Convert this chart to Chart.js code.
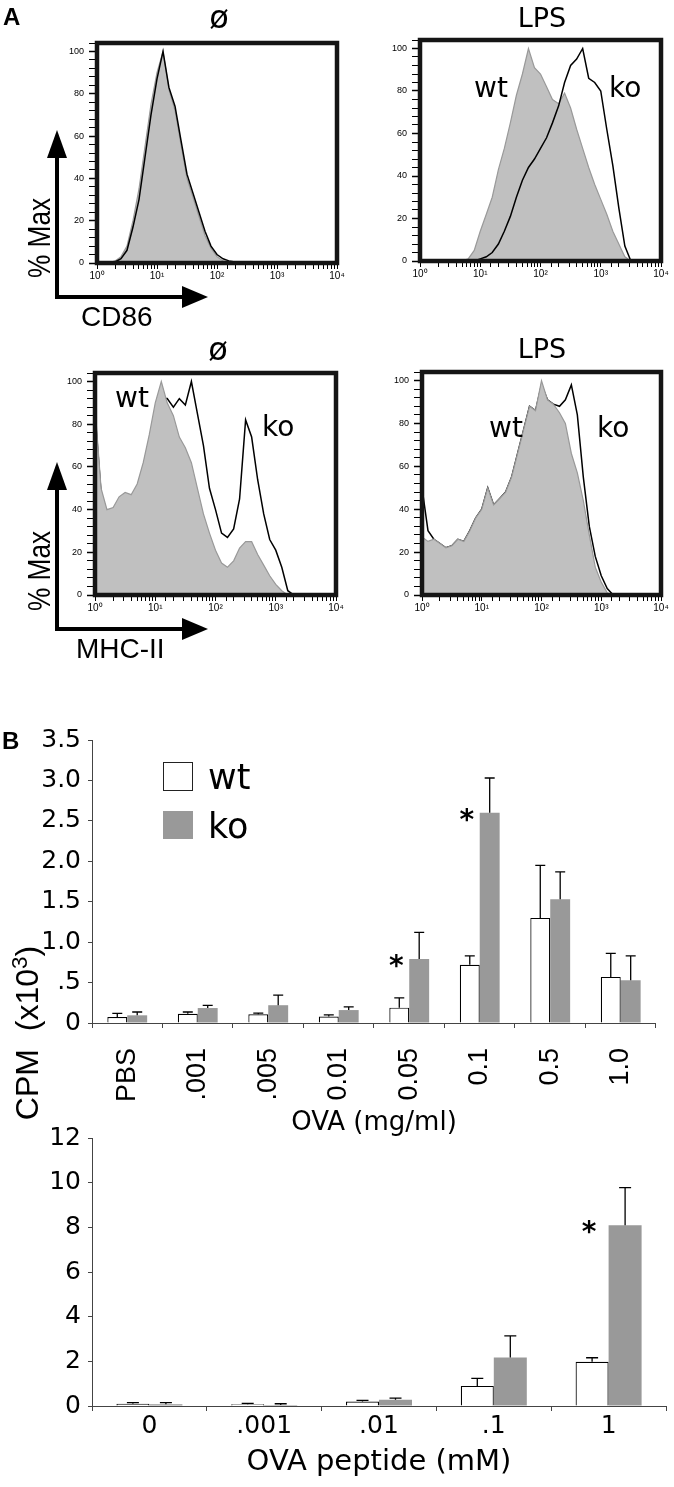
<!DOCTYPE html>
<html>
<head>
<meta charset="utf-8">
<script src="https://cdn.jsdelivr.net/npm/chart.js@4.4.0/dist/chart.umd.min.js"></script>
<style>
  body { margin: 0; background: #fff; }
  #fig { position: relative; width: 674px; height: 1487px; overflow: hidden; background: #fff; }
  #fig canvas { position: absolute; }
  .t { position: absolute; white-space: nowrap; line-height: 1; color: #000; }
  .ls { font-family: 'Liberation Sans', Arial, sans-serif; }
  .dv { font-family: 'DejaVu Sans', sans-serif; }
  .c { transform: translateX(-50%); }
</style>
</head>
<body>
<div id="fig">
  <!-- panel A: histograms -->
  <canvas id="cd86None"></canvas>
  <canvas id="cd86Lps"></canvas>
  <canvas id="mhcNone"></canvas>
  <canvas id="mhcLps"></canvas>

  <!-- panel B: proliferation -->
  <canvas id="ovaChart" width="674" height="450" style="left:0;top:700px;width:674px;height:450px"></canvas>
  <canvas id="peptideChart" width="674" height="377" style="left:0;top:1110px;width:674px;height:377px"></canvas>

  <svg width="674" height="700" style="position:absolute;left:0;top:0">
    <g fill="#000">
      <rect x="55" y="155" width="4" height="144"/>
      <polygon points="47,158 67,158 57,130"/>
      <rect x="55" y="295" width="129" height="4"/>
      <polygon points="182,286 182,308 208,297"/>
      <rect x="55" y="487" width="4" height="144"/>
      <polygon points="47,490 67,490 57,462"/>
      <rect x="55" y="627" width="129" height="4"/>
      <polygon points="182,618 182,640 208,629"/>
    </g>
  </svg>

  <span class="t ls" style="left:3px;top:5px;font-size:24px;font-weight:bold">A</span>
  <span class="t dv c" style="left:219px;top:1px;font-size:32px">ø</span>
  <span class="t dv c" style="left:542px;top:4px;font-size:27px">LPS</span>
  <span class="t dv c" style="left:218px;top:333px;font-size:32px">ø</span>
  <span class="t dv c" style="left:542px;top:335px;font-size:27px">LPS</span>

  <span class="t dv" style="left:474px;top:74px;font-size:28px">wt</span>
  <span class="t dv" style="left:609px;top:74px;font-size:28px">ko</span>
  <span class="t dv" style="left:115px;top:384px;font-size:28px">wt</span>
  <span class="t dv" style="left:262px;top:413px;font-size:28px">ko</span>
  <span class="t dv" style="left:489px;top:414px;font-size:28px">wt</span>
  <span class="t dv" style="left:597px;top:414px;font-size:28px">ko</span>

  <span class="t ls" style="left:39px;top:238px;font-size:32px;transform:translate(-50%,-50%) rotate(-90deg) scaleX(0.82)">% Max</span>
  <span class="t ls" style="left:39px;top:571px;font-size:32px;transform:translate(-50%,-50%) rotate(-90deg) scaleX(0.82)">% Max</span>
  <span class="t ls" style="left:81px;top:303px;font-size:28px">CD86</span>
  <span class="t ls" style="left:76px;top:635px;font-size:28px">MHC-II</span>

  <span class="t ls" style="left:2px;top:729px;font-size:24px;font-weight:bold">B</span>
  <span class="t ls" style="left:26px;top:1033px;font-size:32px;transform:translate(-50%,-50%) rotate(-90deg)">CPM&nbsp;&nbsp;(x10<sup style="font-size:0.7em">3</sup>)</span>

  <div style="position:absolute;left:163px;top:762px;width:28px;height:27px;border:1px solid #222;background:#fff"></div>
  <div style="position:absolute;left:163px;top:811px;width:30px;height:28px;background:#999"></div>
  <span class="t dv" style="left:208px;top:760px;font-size:35px">wt</span>
  <span class="t dv" style="left:208px;top:809px;font-size:35px">ko</span>
</div>

<script>
/* ── Panel A data: % of max per channel (0.1 decade steps, 10^0 .. 10^4) ── */
const channels = [1, 1.26, 1.58, 2, 2.51, 3.16, 3.98, 5.01, 6.31, 7.94,
  10, 12.6, 15.8, 20, 25.1, 31.6, 39.8, 50.1, 63.1, 79.4,
  100, 126, 158, 200, 251, 316, 398, 501, 631, 794,
  1000, 1259, 1585, 1995, 2512, 3162, 3981, 5012, 6310, 7943, 10000];

const cd86NoneWt = [0,0,0,1,3,8,20,35,55,75, 90,100,82,72,56,40,31,22,13,7, 3,1,0.5,0,0,0,0,0,0,0, 0,0,0,0,0,0,0,0,0,0, 0];
const cd86NoneKo = [0,0,0,0.5,2,6,17,30,50,70, 87,100,83,74,58,42,33,24,15,8, 4,2,1,0.5,0,0,0,0,0,0, 0,0,0,0,0,0,0,0,0,0, 0];
const cd86LpsWt  = [0,0,0,0,0,0,0,0,1,5, 14,22,30,43,53,65,78,88,100,91, 88,82,76,74,79,72,62,53,44,36, 29,22,14,8,2,0,0,0,0,0, 0];
const cd86LpsKo  = [0,0,0,0,0,0,0,0,0,0, 1,2,4,8,14,21,30,38,44,48, 53,58,65,73,84,92,95,100,86,84, 80,62,45,25,7,0,0,0,0,0, 0];
const mhcNoneWt  = [88,50,40,41,46,48,47,52,62,75, 90,100,90,84,74,69,62,50,38,29, 21,15,13,16,22,25,25,19,14,9, 5,2,0,0,0,0,0,0,0,0, 0];
const mhcNoneKo  = [85,48,38,40,44,46,45,50,60,72, 86,92,92,88,92,89,100,85,70,50, 40,29,27,31,45,82,74,54,38,26, 21,13,2,0,0,0,0,0,0,0, 0];
const mhcLpsWt   = [27,25,26,24,22,23,26,25,30,36, 40,50,42,45,48,55,66,77,88,86, 100,91,89,85,80,66,57,44,28,13, 6,1,0,0,0,0,0,0,0,0, 0];
const mhcLpsKo   = [50,30,26,24,22,23,26,25,30,36, 40,50,42,45,48,55,66,77,88,86, 98,91,89,88,91,98,84,55,32,18, 9,3,0,0,0,0,0,0,0,0, 0];

/* ── Panel B data (CPM x10^3) ── */
const ovaDoses  = ['PBS', '.001', '.005', '0.01', '0.05', '0.1', '0.5', '1.0'];
const ovaWt     = [0.074, 0.115, 0.107, 0.08, 0.19, 0.72, 1.30, 0.57];
const ovaWtErr  = [0.046, 0.021, 0.016, 0.02, 0.12, 0.11, 0.65, 0.29];
const ovaKo     = [0.095, 0.185, 0.22, 0.16, 0.79, 2.60, 1.53, 0.53];
const ovaKoErr  = [0.041, 0.033, 0.124, 0.04, 0.33, 0.43, 0.34, 0.30];
const ovaTicks  = ['0', '.5', '1.0', '1.5', '2.0', '2.5', '3.0', '3.5'];
const ovaStars  = [4, 5];

const peptideDoses = ['0', '.001', '.01', '.1', '1'];
const peptideWt    = [0.1, 0.08, 0.2, 0.9, 1.98];
const peptideWtErr = [0.05, 0.04, 0.05, 0.34, 0.18];
const peptideKo    = [0.08, 0.04, 0.28, 2.17, 8.09];
const peptideKoErr = [0.07, 0.06, 0.07, 0.97, 1.69];
const peptideTicks = ['0', '2', '4', '6', '8', '10', '12'];
const peptideStars = [4];

const SUP = ['⁰', '¹', '²', '³', '⁴'];

/* ── plugins ── */
const frame = {
  id: 'frame',
  afterDraw(chart) {
    const { ctx, chartArea: a } = chart;
    ctx.save();
    ctx.lineWidth = 4.5;
    ctx.strokeStyle = '#151515';
    ctx.strokeRect(a.left, a.top, a.right - a.left, a.bottom - a.top);
    ctx.restore();
  }
};

const errorBars = {
  id: 'errorBars',
  afterDatasetsDraw(chart, args, opts) {
    const { ctx } = chart;
    const y = chart.scales.y;
    const half = opts.cap / 2;
    ctx.save();
    ctx.strokeStyle = '#000';
    ctx.lineWidth = 1.3;
    chart.data.datasets.forEach((ds, i) => {
      chart.getDatasetMeta(i).data.forEach((bar, j) => {
        const top = y.getPixelForValue(ds.data[j] + ds.errors[j]);
        ctx.beginPath();
        ctx.moveTo(bar.x, bar.y);
        ctx.lineTo(bar.x, top);
        ctx.moveTo(bar.x - half, top);
        ctx.lineTo(bar.x + half, top);
        ctx.stroke();
      });
    });
    ctx.restore();
  }
};

const stars = {
  id: 'stars',
  afterDatasetsDraw(chart, args, opts) {
    const { ctx } = chart;
    const wtMeta = chart.getDatasetMeta(0);
    const koMeta = chart.getDatasetMeta(1);
    ctx.save();
    ctx.fillStyle = '#000';
    ctx.font = 'bold 28px "DejaVu Sans"';
    ctx.textAlign = 'center';
    ctx.textBaseline = 'alphabetic';
    opts.at.forEach(i => {
      ctx.fillText('*', wtMeta.data[i].x - 3, koMeta.data[i].y + 16);
    });
    ctx.restore();
  }
};

/* ── histogram overlay (panel A) ── */
function histogram(id, area, wt, ko, koOnTop) {
  const padL = 60, padT = 12, padR = 12, padB = 40;
  const cv = document.getElementById(id);
  const w = area[2] - area[0] + padL + padR;
  const h = area[3] - area[1] + padT + padB;
  cv.width = w; cv.height = h;
  cv.style.width = w + 'px'; cv.style.height = h + 'px';
  cv.style.left = (area[0] - padL) + 'px';
  cv.style.top = (area[1] - padT) + 'px';

  new Chart(cv, {
    type: 'line',
    data: {
      labels: channels,
      datasets: [
        { label: 'ko', data: ko, borderColor: '#000', borderWidth: 1.5, fill: false,
          pointRadius: 0, order: koOnTop ? 0 : 2 },
        { label: 'wt', data: wt, borderColor: '#999', borderWidth: 1.2, backgroundColor: '#c0c0c0',
          fill: 'origin', pointRadius: 0, order: 1 }
      ]
    },
    options: {
      responsive: false,
      animation: false,
      layout: { padding: { top: padT, right: padR, left: 0, bottom: 0 } },
      plugins: { legend: { display: false }, tooltip: { enabled: false } },
      scales: {
        x: {
          type: 'logarithmic', min: 1, max: 10000,
          afterFit: s => { s.height = padB; },
          border: { display: false },
          grid: { drawOnChartArea: false, tickLength: 6, color: '#000' },
          ticks: {
            autoSkip: false, maxRotation: 0, padding: 1, color: '#000',
            font: { family: 'Liberation Sans', size: 10 },
            callback: v => {
              const e = Math.log10(v);
              return Math.abs(e - Math.round(e)) < 1e-6 ? '10' + SUP[Math.round(e)] : '';
            }
          }
        },
        y: {
          min: 0, max: 104,
          afterFit: s => { s.width = padL; },
          border: { display: false },
          grid: { drawOnChartArea: false, tickLength: 8, color: '#000',
                  tickWidth: c => (c.tick && c.tick.value % 20 === 0 ? 1.5 : 1) },
          ticks: {
            stepSize: 4, autoSkip: false, padding: 5, color: '#000',
            font: { family: 'Liberation Sans', size: 9 },
            callback: v => (v % 20 === 0 ? v : '')
          }
        }
      }
    },
    plugins: [frame]
  });
}

histogram('cd86None', [97, 43, 337, 263], cd86NoneWt, cd86NoneKo, true);
histogram('cd86Lps', [420, 40, 661, 261], cd86LpsWt, cd86LpsKo, true);
histogram('mhcNone', [95, 373, 336, 595], mhcNoneWt, mhcNoneKo, false);
histogram('mhcLps', [422, 372, 661, 595], mhcLpsWt, mhcLpsKo, false);

/* ── bar charts (panel B) ── */
function barChart(id, o) {
  new Chart(document.getElementById(id), {
    type: 'bar',
    data: {
      labels: o.labels,
      datasets: [
        { label: 'wt', data: o.wt, errors: o.wtErr, backgroundColor: '#fff', borderColor: '#000',
          borderWidth: 1.2, categoryPercentage: o.catPct, barPercentage: 1 },
        { label: 'ko', data: o.ko, errors: o.koErr, backgroundColor: '#999', borderWidth: 0,
          categoryPercentage: o.catPct, barPercentage: 1 }
      ]
    },
    options: {
      responsive: false,
      animation: false,
      layout: { padding: { top: o.padTop, right: o.padRight, left: 0, bottom: 0 } },
      plugins: {
        legend: { display: false }, tooltip: { enabled: false },
        stars: { at: o.stars }, errorBars: { cap: o.cap }
      },
      scales: {
        x: {
          afterFit: s => { s.height = o.xHeight; },
          border: { color: '#444' },
          grid: { drawOnChartArea: false, tickLength: 5, color: '#444' },
          ticks: o.xTicks,
          title: { display: true, text: o.title, color: '#000',
                   font: { family: 'DejaVu Sans', size: o.titleSize },
                   padding: { top: 0, bottom: o.titlePad } }
        },
        y: {
          min: 0, max: o.max,
          afterFit: s => { s.width = 92; },
          border: { color: '#444' },
          grid: { drawOnChartArea: false, tickLength: 4, color: '#444' },
          ticks: { stepSize: o.step, padding: 7, color: '#000',
                   font: { family: 'DejaVu Sans', size: 25 },
                   callback: (v, i) => o.tickLabels[i] }
        }
      }
    },
    plugins: [errorBars, stars]
  });
}

barChart('ovaChart', {
  labels: ovaDoses, wt: ovaWt, wtErr: ovaWtErr, ko: ovaKo, koErr: ovaKoErr,
  stars: ovaStars, tickLabels: ovaTicks, max: 3.5, step: 0.5,
  catPct: 0.565, cap: 10, padTop: 40, padRight: 14, xHeight: 127,
  title: 'OVA (mg/ml)', titleSize: 26, titlePad: 11,
  xTicks: { minRotation: 90, maxRotation: 90, autoSkip: false, padding: 20, color: '#000',
            font: { family: 'Liberation Sans', size: 27 } }
});

barChart('peptideChart', {
  labels: peptideDoses, wt: peptideWt, wtErr: peptideWtErr, ko: peptideKo, koErr: peptideKoErr,
  stars: peptideStars, tickLabels: peptideTicks, max: 12, step: 2,
  catPct: 0.575, cap: 12, padTop: 28, padRight: 8, xHeight: 81,
  title: 'OVA peptide (mM)', titleSize: 29, titlePad: 7,
  xTicks: { maxRotation: 0, autoSkip: false, padding: 0, color: '#000',
            font: { family: 'DejaVu Sans', size: 25 } }
});
</script>
</body>
</html>
